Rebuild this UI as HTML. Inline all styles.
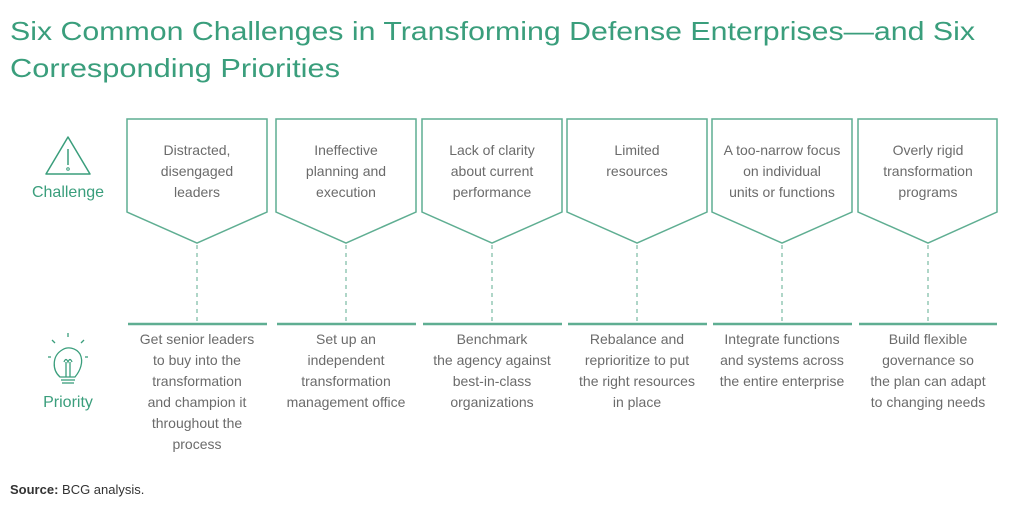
<!DOCTYPE html>
<html><head><meta charset="utf-8"><style>
body{margin:0;background:#fff;width:1024px;height:517px;overflow:hidden;font-family:"Liberation Sans",sans-serif}
</style></head><body>
<svg width="1024" height="517" xmlns="http://www.w3.org/2000/svg">
<g font-family="Liberation Sans, sans-serif">
<text x="10" y="40" font-size="26" fill="#3a9e7c" textLength="965" lengthAdjust="spacingAndGlyphs">Six Common Challenges in Transforming Defense Enterprises—and Six</text>
<text x="10" y="77" font-size="26" fill="#3a9e7c" textLength="330" lengthAdjust="spacingAndGlyphs">Corresponding Priorities</text>

<!-- challenge icon -->
<path d="M68 137 L90 174 L46 174 Z" fill="none" stroke="#3a9e7c" stroke-width="1.5" stroke-linejoin="round"/>
<line x1="68" y1="149" x2="68" y2="165" stroke="#3a9e7c" stroke-width="1.5"/>
<circle cx="68" cy="169" r="1.3" fill="none" stroke="#3a9e7c"/>
<text x="68" y="197" font-size="16" fill="#3a9e7c" text-anchor="middle">Challenge</text>

<!-- priority icon -->
<g stroke="#3a9e7c" stroke-width="1.3" fill="none">
<path d="M60 377 C52 370 52 356 62 350 C68 346 76 348 80 354 C84 362 80 371 75 377 Z"/>
<line x1="61" y1="380" x2="75" y2="380"/><line x1="62" y1="383" x2="74" y2="383"/>
<path d="M66 377 V362 M70 377 V362 M64 362 Q66 357 68 362 Q70 357 72 362"/>
<line x1="68" y1="333" x2="68" y2="337"/><line x1="52" y1="340" x2="55" y2="343"/><line x1="84" y1="340" x2="81" y2="343"/>
<line x1="48" y1="357" x2="51" y2="357"/><line x1="85" y1="357" x2="88" y2="357"/>
</g>
<text x="68" y="407" font-size="16" fill="#3a9e7c" text-anchor="middle">Priority</text>

<g id="cols" fill="#6b6b6b" font-size="14" text-anchor="middle">
</g>
</g>
<script>
</script>
<g font-family="Liberation Sans, sans-serif" font-size="14" fill="#6b6b6b" text-anchor="middle">
<!-- col template repeated -->
<g transform="translate(127,0)">
<path d="M0 119 H140 V212 L70 243 L0 212 Z" fill="none" stroke="#5fae92" stroke-width="1.5"/>
<line x1="70" y1="245" x2="70" y2="322" stroke="#5fae92" stroke-dasharray="4,4"/>
<line x1="1" y1="324" x2="140" y2="324" stroke="#5fae92" stroke-width="2.5"/>
<text x="70" y="155">Distracted,</text><text x="70" y="176">disengaged</text><text x="70" y="197">leaders</text>
<text x="70" y="344">Get senior leaders</text><text x="70" y="365">to buy into the</text><text x="70" y="386">transformation</text><text x="70" y="407">and champion it</text><text x="70" y="428">throughout the</text><text x="70" y="449">process</text>
</g>
<g transform="translate(276,0)">
<path d="M0 119 H140 V212 L70 243 L0 212 Z" fill="none" stroke="#5fae92" stroke-width="1.5"/>
<line x1="70" y1="245" x2="70" y2="322" stroke="#5fae92" stroke-dasharray="4,4"/>
<line x1="1" y1="324" x2="140" y2="324" stroke="#5fae92" stroke-width="2.5"/>
<text x="70" y="155">Ineffective</text><text x="70" y="176">planning and</text><text x="70" y="197">execution</text>
<text x="70" y="344">Set up an</text><text x="70" y="365">independent</text><text x="70" y="386">transformation</text><text x="70" y="407">management office</text>
</g>
<g transform="translate(422,0)">
<path d="M0 119 H140 V212 L70 243 L0 212 Z" fill="none" stroke="#5fae92" stroke-width="1.5"/>
<line x1="70" y1="245" x2="70" y2="322" stroke="#5fae92" stroke-dasharray="4,4"/>
<line x1="1" y1="324" x2="140" y2="324" stroke="#5fae92" stroke-width="2.5"/>
<text x="70" y="155">Lack of clarity</text><text x="70" y="176">about current</text><text x="70" y="197">performance</text>
<text x="70" y="344">Benchmark</text><text x="70" y="365">the agency against</text><text x="70" y="386">best-in-class</text><text x="70" y="407">organizations</text>
</g>
<g transform="translate(567,0)">
<path d="M0 119 H140 V212 L70 243 L0 212 Z" fill="none" stroke="#5fae92" stroke-width="1.5"/>
<line x1="70" y1="245" x2="70" y2="322" stroke="#5fae92" stroke-dasharray="4,4"/>
<line x1="1" y1="324" x2="140" y2="324" stroke="#5fae92" stroke-width="2.5"/>
<text x="70" y="155">Limited</text><text x="70" y="176">resources</text>
<text x="70" y="344">Rebalance and</text><text x="70" y="365">reprioritize to put</text><text x="70" y="386">the right resources</text><text x="70" y="407">in place</text>
</g>
<g transform="translate(712,0)">
<path d="M0 119 H140 V212 L70 243 L0 212 Z" fill="none" stroke="#5fae92" stroke-width="1.5"/>
<line x1="70" y1="245" x2="70" y2="322" stroke="#5fae92" stroke-dasharray="4,4"/>
<line x1="1" y1="324" x2="140" y2="324" stroke="#5fae92" stroke-width="2.5"/>
<text x="70" y="155">A too-narrow focus</text><text x="70" y="176">on individual</text><text x="70" y="197">units or functions</text>
<text x="70" y="344">Integrate functions</text><text x="70" y="365">and systems across</text><text x="70" y="386">the entire enterprise</text>
</g>
<g transform="translate(858,0)">
<path d="M0 119 H139 V212 L70 243 L0 212 Z" fill="none" stroke="#5fae92" stroke-width="1.5"/>
<line x1="70" y1="245" x2="70" y2="322" stroke="#5fae92" stroke-dasharray="4,4"/>
<line x1="1" y1="324" x2="139" y2="324" stroke="#5fae92" stroke-width="2.5"/>
<text x="70" y="155">Overly rigid</text><text x="70" y="176">transformation</text><text x="70" y="197">programs</text>
<text x="70" y="344">Build flexible</text><text x="70" y="365">governance so</text><text x="70" y="386">the plan can adapt</text><text x="70" y="407">to changing needs</text>
</g>
</g>
<text x="10" y="494" font-family="Liberation Sans, sans-serif" font-size="13" fill="#333"><tspan font-weight="bold">Source:</tspan> BCG analysis.</text>
</svg>
</body></html>
